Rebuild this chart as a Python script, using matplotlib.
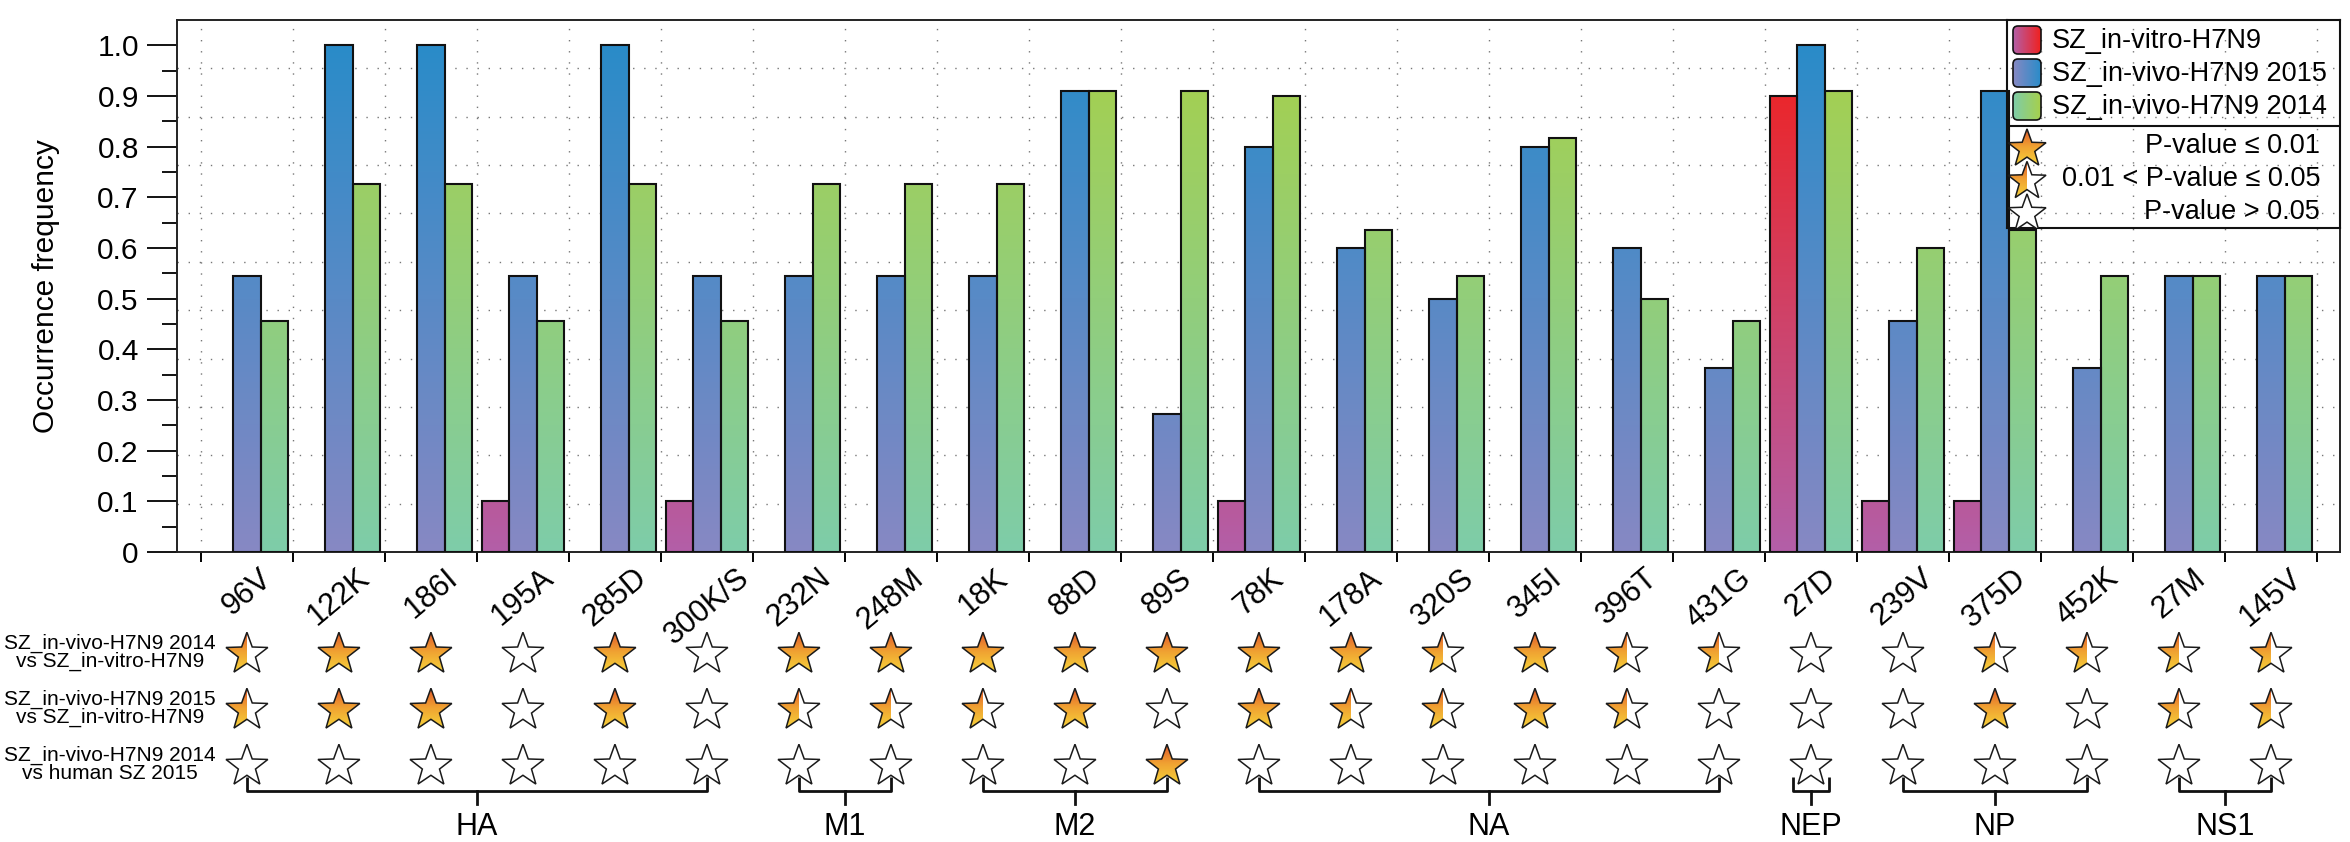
import numpy as np
import matplotlib
import matplotlib.pyplot as plt
from matplotlib import font_manager
from matplotlib.colors import LinearSegmentedColormap, Normalize
from matplotlib.patches import Polygon, FancyBboxPatch
from matplotlib.transforms import Affine2D, ScaledTranslation

plt.rcParams['font.family'] = ['Liberation Sans', 'DejaVu Sans']

# ---- data ----
sites = ['96V', '122K', '186I', '195A', '285D', '300K/S', '232N', '248M', '18K',
         '88D', '89S', '78K', '178A', '320S', '345I', '396T', '431G', '27D',
         '239V', '375D', '452K', '27M', '145V']
freq_vitro = [0, 0, 0, 0.1, 0, 0.1, 0, 0, 0, 0, 0, 0.1, 0, 0, 0, 0, 0, 0.9,
              0.1, 0.1, 0, 0, 0]
freq_2015 = [0.545, 1.0, 1.0, 0.545, 1.0, 0.545, 0.545, 0.545, 0.545, 0.909,
             0.273, 0.8, 0.6, 0.5, 0.8, 0.6, 0.364, 1.0, 0.455, 0.909, 0.364,
             0.545, 0.545]
freq_2014 = [0.455, 0.727, 0.727, 0.455, 0.727, 0.455, 0.727, 0.727, 0.727,
             0.909, 0.909, 0.9, 0.636, 0.545, 0.818, 0.5, 0.455, 0.909, 0.6,
             0.636, 0.545, 0.545, 0.545]
series_names = ['SZ_in-vitro-H7N9', 'SZ_in-vivo-H7N9 2015', 'SZ_in-vivo-H7N9 2014']

# significance: 2 = P <= 0.01, 1 = 0.01 < P <= 0.05, 0 = P > 0.05
comparisons = ['SZ_in-vivo-H7N9 2014\nvs SZ_in-vitro-H7N9',
               'SZ_in-vivo-H7N9 2015\nvs SZ_in-vitro-H7N9',
               'SZ_in-vivo-H7N9 2014\nvs human SZ 2015']
sig_2014_vitro = [1, 2, 2, 0, 2, 0, 2, 2, 2, 2, 2, 2, 2, 1, 2, 1, 1, 0, 0, 1, 1, 1, 1]
sig_2015_vitro = [1, 2, 2, 0, 2, 0, 1, 1, 1, 2, 0, 2, 1, 1, 2, 1, 0, 0, 0, 2, 0, 1, 1]
sig_2014_human = [0, 0, 0, 0, 0, 0, 0, 0, 0, 0, 2, 0, 0, 0, 0, 0, 0, 0, 0, 0, 0, 0, 0]
sig_legend = ['P-value \u2264 0.01', '0.01 < P-value \u2264 0.05', 'P-value > 0.05']

proteins = ['HA', 'M1', 'M2', 'NA', 'NEP', 'NP', 'NS1']
protein_first = [0, 6, 8, 11, 17, 18, 21]
protein_last = [5, 7, 10, 16, 17, 20, 22]

yticks = [0, 0.1, 0.2, 0.3, 0.4, 0.5, 0.6, 0.7, 0.8, 0.9, 1.0]

# ---- styles ----
cmaps = [LinearSegmentedColormap.from_list('vitro', ['#b35fa8', '#f0211f']),
         LinearSegmentedColormap.from_list('v2015', ['#8788c3', '#2a8cc9']),
         LinearSegmentedColormap.from_list('v2014', ['#7ecca9', '#a6d04c'])]
star_cmap = LinearSegmentedColormap.from_list('star', ['#e0552a', '#f0a232', '#f6d23a'])

names = {f.name for f in font_manager.fontManager.ttflist}
if 'Liberation Sans Narrow' in names:
    NARROW = ['Liberation Sans Narrow']
    ROW_FS, GRP_FS = 17, 24
else:
    NARROW = ['Liberation Sans']
    ROW_FS, GRP_FS = 15, 22

BAR_W = 0.3
n = len(sites)
centers = np.arange(n) + 0.5

ang = np.pi / 2 + np.arange(10) * np.pi / 5
rad = np.where(np.arange(10) % 2 == 0, 1.0, 0.41)
STAR = np.column_stack([rad * np.cos(ang), rad * np.sin(ang) - 0.095])


def draw_star(axx, x, y, level, R):
    trans = Affine2D().scale(R) + ScaledTranslation(x, y, axx.transData)
    axx.add_patch(Polygon(STAR, closed=True, transform=trans, facecolor='white',
                          edgecolor='none', zorder=6))
    outline = Polygon(STAR, closed=True, transform=trans, facecolor='none',
                      edgecolor='#1a1a1a', linewidth=1.1, zorder=8)
    if level > 0:
        right = 1.0 if level == 2 else 0.0
        grad = np.linspace(0, 1, 100).reshape(-1, 1)
        im = axx.imshow(grad, extent=(-1.0, right, -0.92, 0.92), origin='upper',
                        cmap=star_cmap, aspect='auto', transform=trans, zorder=7,
                        interpolation='bilinear')
        im.set_clip_path(outline)
    axx.add_patch(outline)


fig = plt.figure(figsize=(23.5, 8.42), dpi=100)
W, H = 2350, 842
ax_l, ax_r, ax_t, ax_b = 177, 2340, 20, 552
ax = fig.add_axes([ax_l / W, 1 - ax_b / H, (ax_r - ax_l) / W, (ax_b - ax_t) / H])

XLIM = (-0.26, 23.25)

# ---- bars with vertical gradients ----
for k, vals in enumerate([freq_vitro, freq_2015, freq_2014]):
    xs = centers + (k - 1) * BAR_W
    bars = ax.bar(xs, vals, width=BAR_W, facecolor='none', edgecolor='#111111',
                  linewidth=1.5, zorder=3)
    for rect in bars:
        h = rect.get_height()
        if h <= 0:
            rect.set_visible(False)
            continue
        x0 = rect.get_x()
        grad = np.linspace(0, h, 200).reshape(-1, 1)
        ax.imshow(grad, extent=(x0, x0 + rect.get_width(), 0, h), origin='lower',
                  aspect='auto', cmap=cmaps[k], norm=Normalize(0, 1), zorder=2,
                  interpolation='bilinear')

# ---- grid (dotted) ----
dots = dict(color='#777777', linewidth=1.0, linestyle=(0, (1, 7)), zorder=1)
for gy in np.arange(1, 11) * 1.05 / 11:
    ax.axhline(gy, **dots)
for gx in np.arange(n + 1):
    ax.axvline(gx, **dots)

ax.set_xlim(*XLIM)
ax.set_ylim(0, 1.05)

ax.set_xticks(np.arange(n + 1))
ax.set_xticklabels([])
ax.set_xticks(centers, minor=True)
ax.set_xticklabels(sites, minor=True, rotation=40, fontsize=22)
ax.tick_params(axis='x', which='major', direction='out', length=7, width=1.4)
ax.tick_params(axis='x', which='minor', length=0, pad=8)

ax.set_yticks(yticks)
ax.set_yticklabels(['0' if v == 0 else f'{v:.1f}' for v in yticks], fontsize=21.5)
ax.set_yticks(np.arange(0.05, 1.05, 0.1), minor=True)
ax.tick_params(axis='y', which='major', direction='out', length=21.5, width=1.3, pad=6)
ax.tick_params(axis='y', which='minor', direction='out', length=11, width=1.3)
for sp in ax.spines.values():
    sp.set_linewidth(1.4)
    sp.set_color('#222222')

ax.set_ylabel('Occurrence frequency', fontsize=21.5)
ax.yaxis.set_label_coords(-0.054, 0.5)

# ---- legend (drawn by hand, transparent box) ----
lw_px, lh_px = 333, 208
lax = ax.inset_axes([1 - lw_px / (ax_r - ax_l), 1 - lh_px / (ax_b - ax_t),
                     lw_px / (ax_r - ax_l), lh_px / (ax_b - ax_t)])
lax.set_facecolor('none')
lax.set_xticks([])
lax.set_yticks([])
for sp in lax.spines.values():
    sp.set_linewidth(1.5)
    sp.set_color('#111111')
lax.axhline(106, color='#111111', linewidth=1.5)
for k, name in enumerate(series_names):
    yc = 20 + 33 * k
    box = FancyBboxPatch((6, yc - 14), 28, 28, boxstyle='round,pad=0,rounding_size=5',
                         facecolor='none', edgecolor='#111111', linewidth=1.2, zorder=4)
    lax.add_patch(box)
    hgrad = np.linspace(0, 1, 100).reshape(1, -1)
    im = lax.imshow(hgrad, extent=(6, 34, yc + 14, yc - 14), aspect='auto',
                    cmap=cmaps[k], zorder=3, interpolation='bilinear')
    im.set_clip_path(box)
    lax.text(45, yc + 1, name, va='center', ha='left', fontsize=19.5)
for k, txt in enumerate(sig_legend):
    yc = 126 + 33 * k
    lax.text(313, yc, txt, va='center', ha='right', fontsize=19.5)
for k, level in enumerate([2, 1, 0]):
    draw_star(lax, 20, 127 + 32.5 * k, level, 20)
lax.set_xlim(0, lw_px)
lax.set_ylim(lh_px, 0)

# ---- significance stars and protein brackets ----
s_top = 627
sax = fig.add_axes([ax_l / W, 0, (ax_r - ax_l) / W, (H - s_top) / H])
sax.axis('off')
for r, (label, sig) in enumerate(zip(comparisons, [sig_2014_vitro, sig_2015_vitro,
                                                   sig_2014_human])):
    sax.text(-0.99, r, label, ha='center', va='center', fontsize=ROW_FS,
             family=NARROW, linespacing=0.95)
    for x, level in zip(centers, sig):
        draw_star(sax, x, r, level, 22)

for name, i0, i1 in zip(proteins, protein_first, protein_last):
    x0, x1 = centers[i0], centers[i1]
    if i0 == i1:
        x0, x1 = x0 - 0.2, x1 + 0.2
    xm = (x0 + x1) / 2
    sax.plot([x0, x0, x1, x1], [2.23, 2.48, 2.48, 2.23], color='#111111',
             linewidth=2, solid_capstyle='butt', clip_on=False)
    sax.plot([xm, xm], [2.48, 2.71], color='#111111', linewidth=2, clip_on=False)
    sax.text(xm, 3.12, name, ha='center', va='center', fontsize=GRP_FS, family=NARROW)

sax.set_xlim(*XLIM)
sax.set_ylim(3.39, -0.45)

fig.savefig('out.png', dpi=100)
